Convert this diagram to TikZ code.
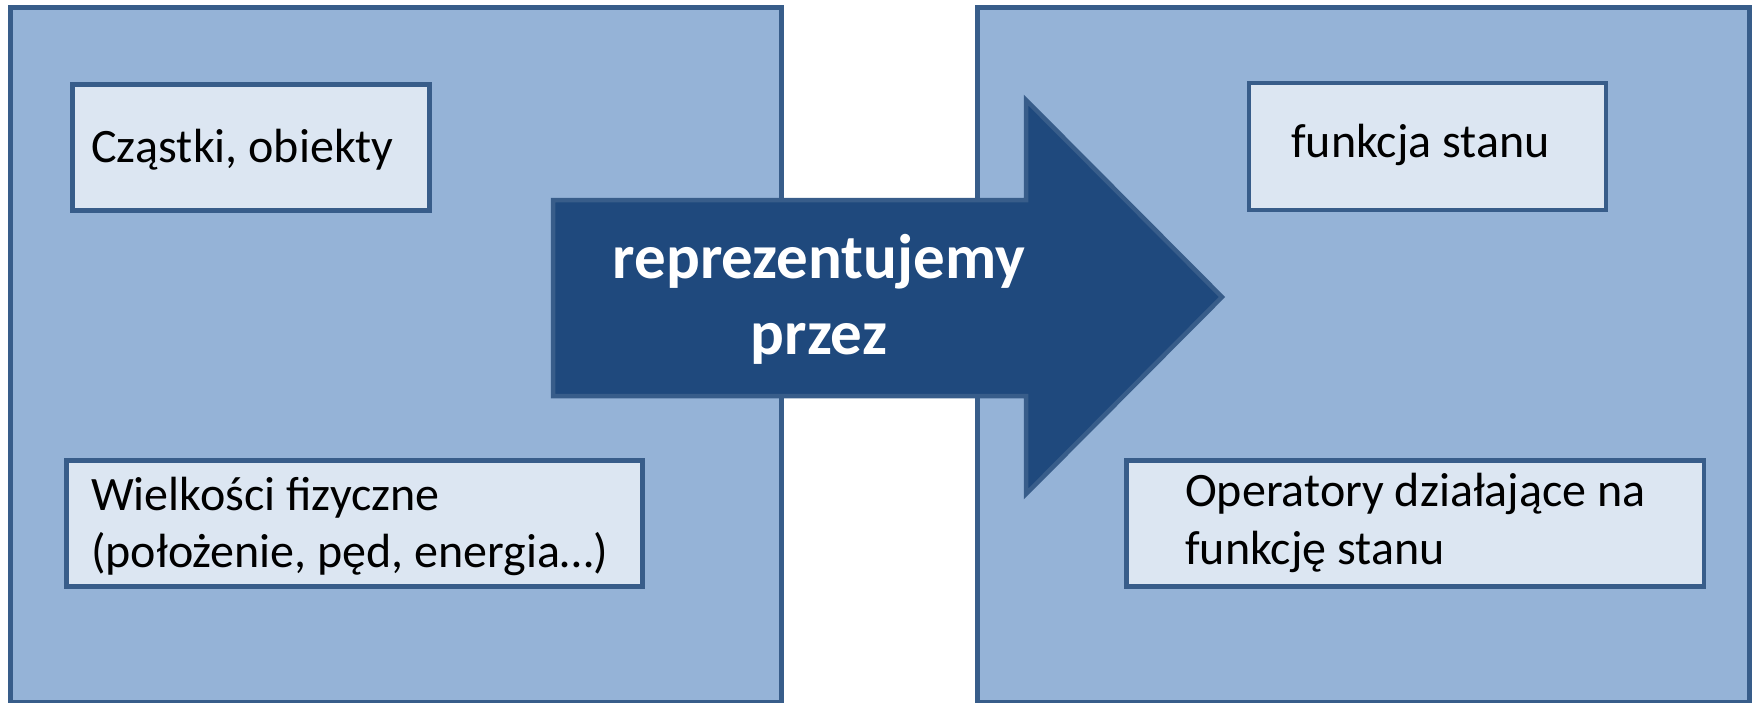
\documentclass[tikz,border=0pt]{standalone}
\usepackage{fontspec}
\setmainfont{Carlito}
\definecolor{bigfill}{HTML}{95B3D7}
\definecolor{edgeblue}{HTML}{385D8A}
\definecolor{smallfill}{HTML}{DCE6F2}
\definecolor{arrowfill}{HTML}{1F497D}
\tikzset{
  panel/.style={draw=edgeblue, fill=bigfill, line width=5pt},
  itembox/.style={draw=edgeblue, fill=smallfill, line width=4.5pt, rectangle, inner sep=0pt, anchor=north west},
  itemtext/.style={anchor=base west, inner sep=0pt, align=left, font=\fontsize{48}{57.6}\selectfont, text=black},
  arrowshape/.style={draw=edgeblue, fill=arrowfill, line width=4.5pt, line join=miter},
  arrowtext/.style={anchor=base, inner sep=0pt, align=center, text=white, font=\fontsize{63}{76.5}\selectfont\bfseries}
}
\begin{document}
\begin{tikzpicture}[x=1pt,y=-1pt]
\useasboundingbox (0,0) rectangle (1758,702);
\clip (0,0) rectangle (1758,702);
% panels
\draw[panel] (10,7) rectangle (781.5,702);
\draw[panel] (977.5,7) rectangle (1749,702);
% item boxes
\node[itembox, minimum width=357pt, minimum height=126pt] (boxA) at (70,82) {};
\node[itembox, minimum width=576pt, minimum height=126pt] (boxB) at (64,458) {};
\node[itembox, minimum width=357pt, minimum height=127pt] (boxC) at (1246.5,80.5) {};
\node[itembox, minimum width=577.5pt, minimum height=126pt] (boxD) at (1124,458) {};
% texts (base = baseline of the last line)
\node[itemtext] (tA) at (91,162) {Cząstki, obiekty};
\node[itemtext] (tB) at (91,567.6) {Wielkości fizyczne\\(położenie, pęd, energia…)};
\node[itemtext] (tC) at (1291,157.5) {funkcja stanu};
\node[itemtext] (tD) at (1185,564.5) {Operatory działające na\\funkcję stanu};
% arrow
\draw[arrowshape] (553,200) -- (1026,200) -- (1026,100) -- (1222,297) -- (1026,494) -- (1026,396) -- (553,396) -- cycle;
\node[arrowtext] (tArrow) at (819,354.5) {reprezentujemy\\przez};
\end{tikzpicture}
\end{document}
